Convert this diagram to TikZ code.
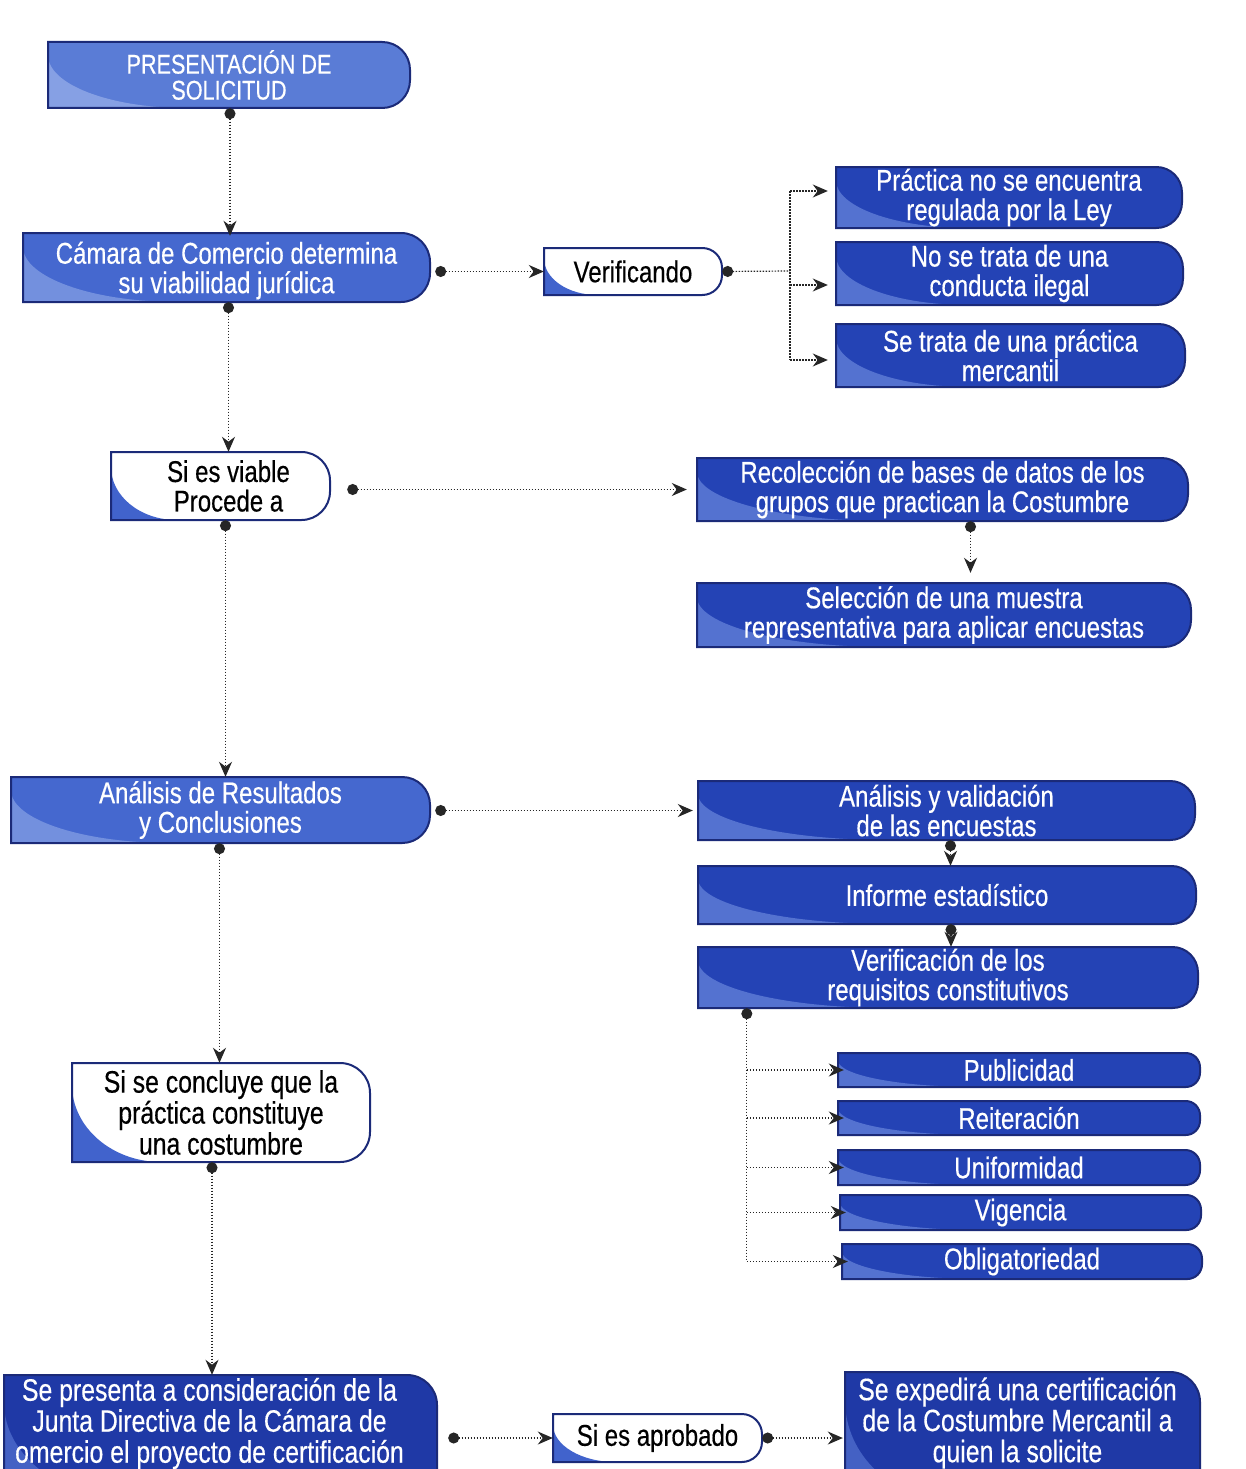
\documentclass[tikz,border=0pt]{standalone}
\usepackage{fontspec}
\setmainfont[FakeStretch=0.8,FakeBold=0.4]{Liberation Sans}
\usetikzlibrary{arrows.meta}
\definecolor{fillA}{HTML}{5A7CD6}\definecolor{wedgeA}{HTML}{86A0E4}\colorlet{textA}{white}
\definecolor{fillB}{HTML}{4568CF}\definecolor{wedgeB}{HTML}{7390DE}\colorlet{textB}{white}
\definecolor{fillC}{HTML}{2443B5}\definecolor{wedgeC}{HTML}{5472D0}\colorlet{textC}{white}
\definecolor{fillD}{HTML}{1F39A6}\definecolor{wedgeD}{HTML}{4461C4}\colorlet{textD}{white}
\colorlet{fillW}{white}\definecolor{wedgeW}{HTML}{4163CC}\colorlet{textW}{black}
\definecolor{edgeblue}{HTML}{1B2A78}
\def\wfracA{0.38}\def\wdelA{0.2}
\def\wfracB{0.38}\def\wdelB{0.2}
\def\wfracC{0.38}\def\wdelC{0.22}
\def\wfracD{0.30}\def\wdelD{0.22}
\def\wfracW{0.30}\def\wdelW{0.22}
\newcommand{\boxfont}{\fontsize{30}{29.5}\selectfont}
\tikzset{
  boxline/.style={draw=edgeblue, line width=2pt},
  boxtext/.style={inner sep=0pt, align=center, font=\boxfont},
  dl/.style={draw=black!85, line width=1.2pt, dash pattern=on 1.5pt off 1.5pt},
  ar/.style={dl, -{Stealth[length=15pt,width=13pt]}},
  da/.style={dl, {Circle[length=11pt,width=11pt]}-{Stealth[length=15pt,width=13pt]}},
  ds/.style={dl, {Circle[length=11pt,width=11pt]}-},
}
\newcommand{\flowbox}[8][]{%
  \pgfmathsetmacro\fbW{#5-#3}%
  \pgfmathsetmacro\fbH{#6-#4}%
  \pgfmathsetmacro\fbR{min(0.42*\fbH,30)}%
  \pgfmathsetmacro\fbK{0.448*\fbR}%
  \pgfmathsetmacro\fbCX{(#3+#5)/2}%
  \pgfmathsetmacro\fbCY{(#4+#6)/2}%
  \edef\fbFrac{\csname wfrac#7\endcsname}%
  \edef\fbDel{\csname wdel#7\endcsname}%
  \pgfmathsetmacro\fbWY{#4+\fbDel*\fbH}%
  \pgfmathsetmacro\fbWA{\fbFrac*\fbW}%
  \fill[fill#7] (#3,#4) -- ({#5-\fbR},#4) .. controls ({#5-\fbK},#4) and (#5,{#4+\fbK}) .. (#5,{#4+\fbR}) -- (#5,{#6-\fbR}) .. controls (#5,{#6-\fbK}) and ({#5-\fbK},#6) .. ({#5-\fbR},#6) -- (#3,#6) -- cycle;
  \fill[wedge#7] (#3,\fbWY) .. controls (#3,{\fbWY+0.552*(#6-\fbWY)}) and ({#3+0.448*\fbWA},#6) .. ({#3+\fbWA},#6) -- (#3,#6) -- cycle;
  \draw[boxline] (#3,#4) -- ({#5-\fbR},#4) .. controls ({#5-\fbK},#4) and (#5,{#4+\fbK}) .. (#5,{#4+\fbR}) -- (#5,{#6-\fbR}) .. controls (#5,{#6-\fbK}) and ({#5-\fbK},#6) .. ({#5-\fbR},#6) -- (#3,#6) -- cycle;
  \node[boxtext, text=text#7, minimum width=\fbW pt, minimum height=\fbH pt, #1] (#2) at (\fbCX,\fbCY) {#8};
}
\begin{document}
\begin{tikzpicture}[x=1pt,y=-1pt]
\useasboundingbox (0,0) rectangle (1246,1469);
\clip (0,0) rectangle (1246,1469);
\fill[white] (0,0) rectangle (1246,1469);

% left column
\flowbox[font=\fontsize{27}{26}\selectfont]{pres}{48}{42}{410}{108}{A}{PRESENTACIÓN DE\\SOLICITUD}
\flowbox[yshift=-3pt]{cam}{23}{233}{430}{302}{B}{Cámara de Comercio determina\\su viabilidad jurídica}
\flowbox{verif}{544}{248}{722}{295}{W}{Verificando}
\flowbox[xshift=8pt]{viable}{111}{452}{330}{520}{W}{Si es viable\\Procede a}
\flowbox{anres}{11}{777}{430}{843}{B}{Análisis de Resultados\\y Conclusiones}
\flowbox[font=\fontsize{31}{31}\selectfont]{concl}{72}{1063}{370}{1162}{W}{Si se concluye que la\\práctica constituye\\una costumbre}
\flowbox[font=\fontsize{31}{31}\selectfont, xshift=-11pt, yshift=14pt]{junta}{4}{1375}{437}{1500}{D}{Se presenta a consideración de la\\Junta Directiva de la Cámara de\\omercio el proyecto de certificación}
\flowbox{aprob}{553}{1414}{762}{1462}{W}{Si es aprobado}
\flowbox[font=\fontsize{31}{31}\selectfont, xshift=-5pt, yshift=13pt]{expe}{845}{1372}{1200}{1500}{D}{Se expedirá una certificación\\de la Costumbre Mercantil a\\quien la solicite}

% right column
\flowbox{pract}{836}{167}{1182}{228}{C}{Práctica no se encuentra\\regulada por la Ley}
\flowbox{nose}{836}{242}{1183}{305}{C}{No se trata de una\\conducta ilegal}
\flowbox{setr}{836}{324}{1185}{387}{C}{Se trata de una práctica\\mercantil}
\flowbox{recol}{697}{458}{1188}{521}{C}{Recolección de bases de datos de los\\grupos que practican la Costumbre}
\flowbox{selec}{697}{583}{1191}{647}{C}{Selección de una muestra\\representativa para aplicar encuestas}
\flowbox{anval}{698}{781}{1195}{840}{C}{Análisis y validación\\de las encuestas}
\flowbox{inf}{698}{866}{1196}{924}{C}{Informe estadístico}
\flowbox{verb}{698}{947}{1198}{1008}{C}{Verificación de los\\requisitos constitutivos}
\flowbox{pub}{838}{1053}{1200}{1087}{C}{Publicidad}
\flowbox{rei}{838}{1101}{1200}{1135}{C}{Reiteración}
\flowbox{uni}{838}{1150}{1200}{1185}{C}{Uniformidad}
\flowbox{vig}{840}{1195}{1201}{1230}{C}{Vigencia}
\flowbox{obl}{842}{1244}{1202}{1279}{C}{Obligatoriedad}

% connectors
\draw[da] ([xshift=1pt]pres.south) -- ([xshift=1pt]pres.south |- cam.north);
\draw[da] ([xshift=2pt,yshift=3pt]cam.south) -- ([xshift=2pt]cam.south |- viable.north);
\draw[da] ([xshift=5pt]cam.east |- verif.west) -- (verif.west);

\coordinate (vb) at (790,271);
\coordinate (vt) at (790,191);
\coordinate (vm) at (790,285);
\coordinate (vbt) at (790,360);
\draw[ds] (verif.east) -- (vb);
\draw[dl] (vt) -- (vbt);
\draw[ar] (vt) -- ([xshift=-8pt]pract.west |- vt);
\draw[ar] (vm) -- ([xshift=-8pt]nose.west |- vm);
\draw[ar] (vbt) -- ([xshift=-8pt]setr.west |- vbt);

\draw[da] ([xshift=9pt]viable.east |- recol.west) -- ([xshift=-10pt]recol.west);
\draw[da] ([xshift=28pt]recol.south) -- ([xshift=28pt,yshift=10pt]recol.south |- selec.north);
\draw[da] ([xshift=5pt]anres.north |- viable.south) -- ([xshift=5pt]anres.north);
\draw[da] ([xshift=5pt]anres.east |- anval.west) -- ([xshift=-5pt]anval.west);
\draw[da] ([xshift=-1pt]anres.south) -- ([xshift=-1pt]anres.south |- concl.north);
\draw[da] ([xshift=4pt]anval.south) -- ([xshift=4pt]anval.south |- inf.north);
\draw[da] ([xshift=4pt]inf.south) -- ([xshift=4pt]inf.south |- verb.north);

\coordinate (rs) at ([xshift=49pt]verb.south west);
\draw[ds] (rs) -- (rs |- obl.west);
\draw[ar] (rs |- pub.west) -- ([xshift=6pt]pub.west);
\draw[ar] (rs |- rei.west) -- ([xshift=6pt]rei.west);
\draw[ar] (rs |- uni.west) -- ([xshift=6pt]uni.west);
\draw[ar] (rs |- vig.west) -- ([xshift=6pt]vig.west);
\draw[ar] (rs |- obl.west) -- ([xshift=6pt]obl.west);

\draw[da] ([xshift=-9pt]concl.south) -- ([xshift=-9pt,yshift=-14pt]concl.south |- junta.north);
\draw[da] ([xshift=22pt]junta.east |- aprob.west) -- (aprob.west);
\draw[da] (aprob.east) -- ([xshift=3pt]expe.west |- aprob.east);
\end{tikzpicture}
\end{document}
